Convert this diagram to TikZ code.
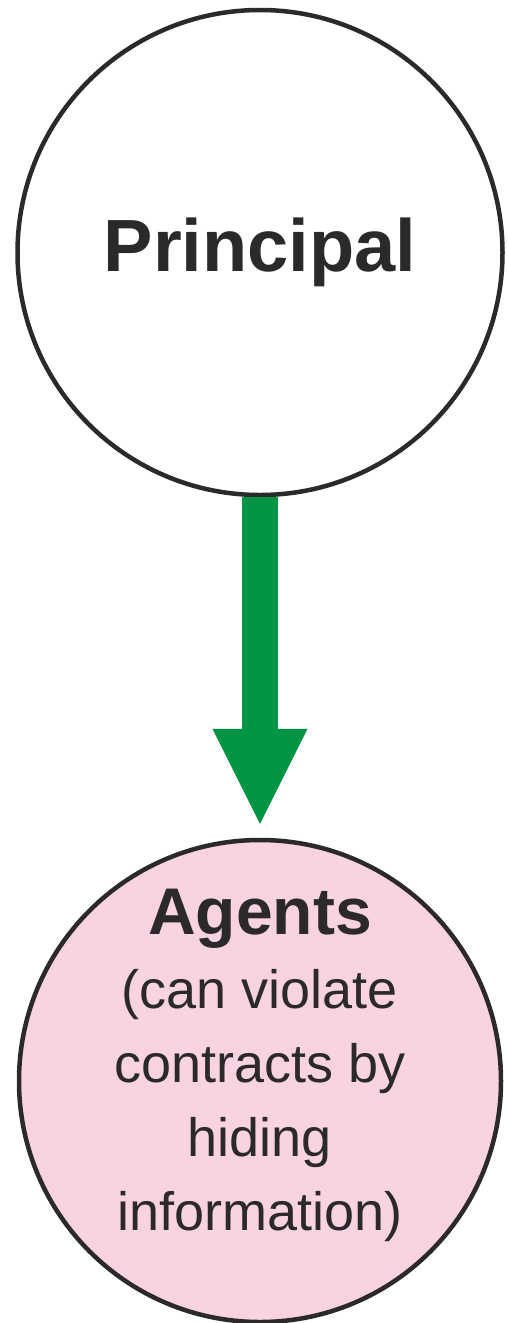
\documentclass[tikz,border=0pt]{standalone}
\usepackage{fontspec}
\setmainfont{Liberation Sans}
\usetikzlibrary{arrows.meta}

\definecolor{ringgray}{HTML}{2B2A29}
\definecolor{flowgreen}{HTML}{009444}
\definecolor{agentpink}{HTML}{F9D3DF}

\begin{document}
\begin{tikzpicture}[x=1pt, y=-1pt,
  party/.style={circle, draw=ringgray, line width=4.5pt, text=ringgray, align=center, inner sep=0pt},
  flow/.style={draw=flowgreen, line width=36pt, -{Triangle[length=95pt, width=95pt, line width=0pt]}}
]
\useasboundingbox (0,0) rectangle (507,1323);
\node[party, fill=white, minimum size=485pt, font=\fontsize{74}{80}\selectfont\bfseries] (principal) at (260,252.5) {Principal};
\node[party, fill=agentpink, minimum size=482pt] (agents) at (260,1081) {};
\node[text=ringgray, align=center, font=\fontsize{54}{74}\selectfont] (agentsnote) at ([yshift=16pt]agents.center)
  {{\fontsize{66}{78}\selectfont\bfseries Agents}\\(can violate\\contracts by\\hiding\\information)};
\draw[flow, shorten >=14pt] (principal) -- (agents);
\end{tikzpicture}
\end{document}
